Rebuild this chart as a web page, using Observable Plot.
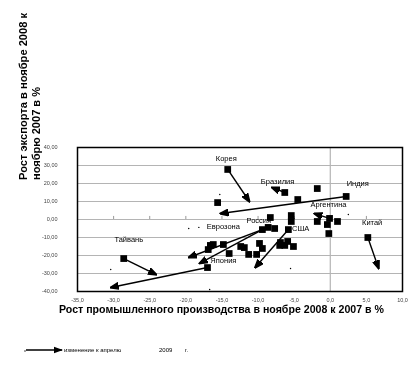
<!DOCTYPE html>
<html><head><meta charset="utf-8">
<script src="https://cdn.jsdelivr.net/npm/d3@7"></script>
<script src="https://cdn.jsdelivr.net/npm/@observablehq/plot@0.6"></script>
<style>
body{margin:0;background:#fff;font-family:"Liberation Sans",Arial,sans-serif;}
#legend{display:block;}
svg{will-change:transform;-webkit-font-smoothing:antialiased;}
</style></head>
<body>
<div id="chart"></div>
<div id="legend"></div>
<script>
// labelled countries: start (Nov 2008) and change to April 2009
const countries = ["Корея","Бразилия","Индия","Аргентина","Россия","Еврозона","США","Япония","Тайвань","Китай"];
const prodNov = [-14.2, -6.3, 2.2, -0.1, -8.6, -9.4, -5.8, -17.0, -28.6, 5.2];
const expNov  = [ 27.8, 15.0, 12.8, 0.6, -4.4, -5.6, -5.6, -26.7, -21.7, -10.0];
const prodApr = [-11.2, -8.1, -15.2, -2.2, -19.6, -18.1, -10.4, -30.4, -24.1, 6.7];
const expApr  = [ 10.0, 17.8, 3.3, 3.3, -21.1, -24.4, -26.7, -37.8, -30.6, -27.2];
// label anchors (data units)
const labelX = [-14.4, -7.3, 3.8, -0.25, -9.9, -14.8, -4.1, -14.8, -27.9, 5.8];
const labelY = [ 33.9, 21.1, 20.0, 8.3, -0.6, -3.9, -5.0, -22.8, -11.1, -1.7];
// other (unlabelled) countries
const otherX = [-15.6, -1.8, -4.5, -1.8, -0.4, 1.0, -0.2, -5.4, -5.4, -8.3, -7.7, -6.9, -6.3, -7.0, -5.1, -5.9, -9.8, -9.4, -10.2, -12.4, -11.9, -11.3, -14.0, -14.8, -16.2, -16.6, -16.9];
const otherY = [  9.4, 17.2, 11.1, -1.1, -2.8, -1.1, -7.8,  2.2, -1.1,  1.1, -5.0, -12.8, -14.4, -14.4, -15.0, -12.2, -13.3, -16.1, -19.4, -15.0, -15.6, -19.4, -18.9, -13.9, -13.9, -14.4, -16.7];
// tiny stray points
const dotX = [-30.4, -19.6, -18.2, -16.7, -15.3, -5.5, 2.5];
const dotY = [-27.8, -5.0, -4.4, -38.9, 13.9, -27.2, 2.8];
// axes
const xTicks = [-35, -30, -25, -20, -15, -10, -5, 0, 5, 10];
const yTicks = [-40, -30, -20, -10, 0, 10, 20, 30, 40];
const yTitle1 = "Рост экспорта в ноябре 2008 к";
const yTitle2 = "ноябрю 2007 в %";
const xTitle = "Рост промышленного производства в ноябре 2008 к 2007 в %";
const legendText = "изменение к апрелю";
const legendYear = "2009";
const legendUnit = "г.";

const labelled = countries.map((c, i) => ({c, x: prodNov[i], y: expNov[i], x2: prodApr[i], y2: expApr[i], lx: labelX[i], ly: labelY[i]}));
const others = otherX.map((x, i) => ({x, y: otherY[i]}));
const dots = dotX.map((x, i) => ({x, y: dotY[i]}));

function filledArrow(color) {
  const ns = "http://www.w3.org/2000/svg";
  const m = document.createElementNS(ns, "marker");
  m.setAttribute("viewBox", "-8 -4 9 8");
  m.setAttribute("markerWidth", 9);
  m.setAttribute("markerHeight", 8);
  m.setAttribute("markerUnits", "userSpaceOnUse");
  m.setAttribute("orient", "auto");
  const p = document.createElementNS(ns, "path");
  p.setAttribute("d", "M-8,-3.3L1,0L-8,3.3Z");
  p.setAttribute("fill", color);
  m.appendChild(p);
  return m;
}

const fmtX = d => d.toFixed(1).replace(".", ",");
const fmtY = d => d.toFixed(2).replace(".", ",");

const plot = Plot.plot({
  width: 417, height: 330,
  marginLeft: 77, marginRight: 15, marginTop: 147, marginBottom: 39,
  style: {fontFamily: '"Liberation Sans", Arial, sans-serif', background: "#fff"},
  x: {domain: [-35, 10], ticks: xTicks},
  y: {domain: [-40, 40], ticks: yTicks},
  marks: [
    Plot.ruleY(yTicks.filter(d => d > -40 && d < 40), {stroke: "#b4b4b4", strokeWidth: 1}),
    Plot.ruleX([0], {stroke: "#b4b4b4", strokeWidth: 1.2}),
    Plot.ruleX(xTicks.filter(d => d > -35 && d < 10), {y1: 0, y2: 1.7, stroke: "#999"}),
    Plot.frame({stroke: "#000", strokeWidth: 1.5}),
    Plot.axisX({ticks: xTicks, tickFormat: fmtX, tickSize: 0, tickPadding: 7, fontSize: 5.5, fill: "#444", label: null}),
    Plot.axisY({ticks: yTicks, tickFormat: fmtY, tickSize: 0, tickPadding: 20, fontSize: 5.5, fill: "#444", label: null}),
    Plot.dot(dots, {x: "x", y: "y", r: 0.7, fill: "#000", stroke: null}),
    Plot.link(labelled, {x1: "x", y1: "y", x2: "x2", y2: "y2", stroke: "#000", strokeWidth: 1.4, markerEnd: filledArrow}),
    Plot.dot(others, {x: "x", y: "y", symbol: "square", r: 3.8, fill: "#000", stroke: null}),
    Plot.dot(labelled, {x: "x", y: "y", symbol: "square", r: 3.8, fill: "#000", stroke: null}),
    Plot.text(labelled, {x: "lx", y: "ly", text: "c", fontSize: 7.5, fill: "#000"})
  ]
});
document.getElementById("chart").appendChild(plot);

// axis titles
const svg = d3.select(plot);
const tg = svg.append("g").attr("font-weight", "bold").attr("font-size", 11).attr("fill", "#000").attr("text-anchor", "start");
tg.append("text").attr("transform", "translate(27,180) rotate(-90)").attr("textLength", 167).attr("lengthAdjust", "spacingAndGlyphs").text(yTitle1);
tg.append("text").attr("transform", "translate(40,180) rotate(-90)").attr("textLength", 93).attr("lengthAdjust", "spacingAndGlyphs").text(yTitle2);
tg.append("text").attr("x", 59).attr("y", 313).attr("textLength", 325).attr("lengthAdjust", "spacingAndGlyphs").text(xTitle);

// legend below the chart
const lg = d3.select("#legend").append("svg").attr("width", 417).attr("height", 44).attr("font-family", '"Liberation Sans", Arial, sans-serif');
const defs = lg.append("defs");
const mk = defs.append("marker").attr("id", "lgarrow").attr("viewBox", "-8 -4 9 8").attr("markerWidth", 9).attr("markerHeight", 8).attr("markerUnits", "userSpaceOnUse").attr("orient", "auto");
mk.append("path").attr("d", "M-8,-3.3L1,0L-8,3.3Z").attr("fill", "#000");
lg.append("circle").attr("cx", 25).attr("cy", 21).attr("r", 0.7).attr("fill", "#000");
lg.append("line").attr("x1", 26).attr("y1", 20).attr("x2", 62).attr("y2", 20).attr("stroke", "#000").attr("stroke-width", 1.6).attr("marker-end", "url(#lgarrow)");
lg.append("text").attr("x", 64).attr("y", 22).attr("font-size", 6).text(legendText);
lg.append("text").attr("x", 159).attr("y", 22).attr("font-size", 6).text(legendYear);
lg.append("text").attr("x", 185).attr("y", 22).attr("font-size", 6).text(legendUnit);
</script>
</body></html>
